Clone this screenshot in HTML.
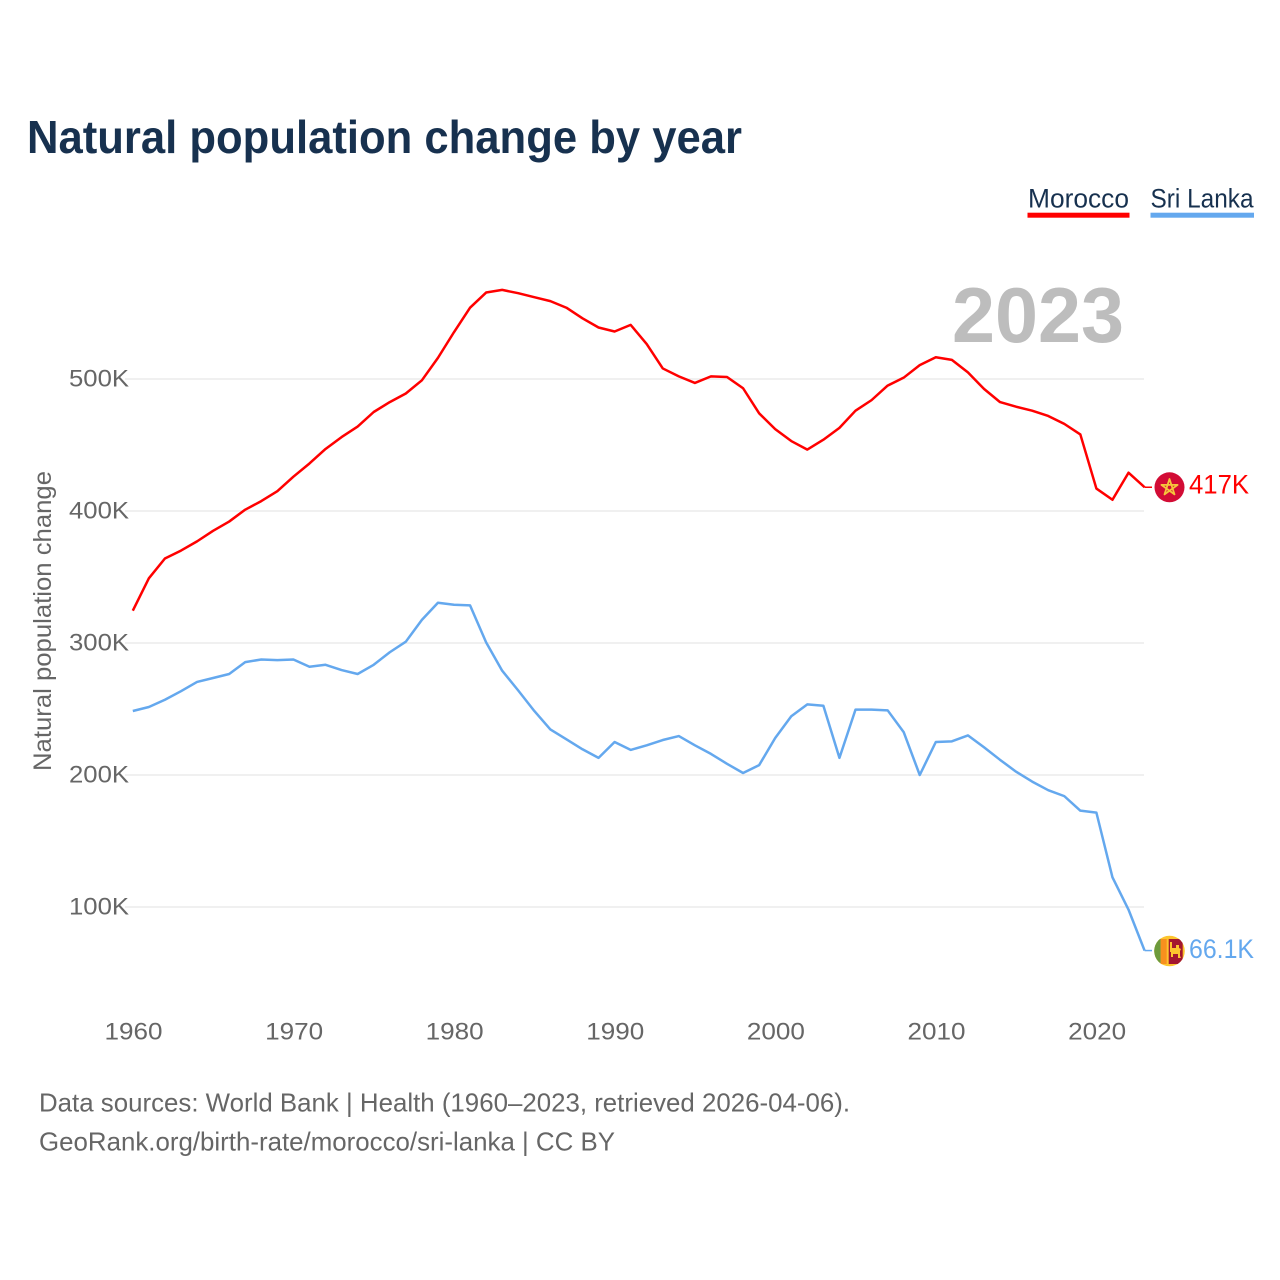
<!DOCTYPE html>
<html lang="en">
<head>
<meta charset="utf-8">
<title>Natural population change by year</title>
<style>
html,body{margin:0;padding:0;background:#fff;width:1280px;height:1280px;overflow:hidden}
svg{display:block}
text{font-family:"Liberation Sans",sans-serif}
</style>
</head>
<body>
<svg id="chart" width="1280" height="1280" viewBox="0 0 1280 1280" xmlns="http://www.w3.org/2000/svg">
  <rect width="1280" height="1280" fill="#fff"/>
  <text x="27" y="153" font-size="46" font-weight="700" fill="#17314f" textLength="715" lengthAdjust="spacingAndGlyphs">Natural population change by year</text>

  <g>
    <text x="1028" y="207.5" font-size="26.5" fill="#17314f" textLength="101" lengthAdjust="spacingAndGlyphs">Morocco</text>
    <rect x="1027.5" y="212.7" width="102" height="5" fill="#ff0000"/>
  </g>
  <g>
    <text x="1150.5" y="207.5" font-size="26.5" fill="#17314f" textLength="103" lengthAdjust="spacingAndGlyphs">Sri Lanka</text>
    <rect x="1150.5" y="212.7" width="103.5" height="5" fill="#64a8ee"/>
  </g>

  <text x="952" y="342" font-size="78" font-weight="700" fill="#bdbdbd" textLength="172" lengthAdjust="spacingAndGlyphs">2023</text>

  <g id="grid"></g>
  <g id="yticks"></g>
  <g id="xticks"></g>

  <text transform="translate(51,771) rotate(-90)" font-size="25" fill="#666" textLength="300" lengthAdjust="spacingAndGlyphs">Natural population change</text>

  <g id="series"></g>

  <defs>
    <clipPath id="flag-clip-lk"><circle cx="1169.5" cy="951" r="15.3"/></clipPath>
  </defs>
  <g id="flag-morocco">
    <circle cx="1169.5" cy="487.3" r="15" fill="#d20c35"/>
    <polygon points="1169.5,479 1174.5,494.4 1161.4,484.9 1177.6,484.9 1164.5,494.4" fill="none" stroke="#f5c63c" stroke-width="1.8" stroke-linejoin="round"/>
  </g>
  <g id="flag-sri-lanka" clip-path="url(#flag-clip-lk)">
    <rect x="1154" y="935" width="31" height="32" fill="#fdc52e"/>
    <rect x="1154" y="939" width="6.7" height="25" fill="#6c9a3c"/>
    <rect x="1160.7" y="939" width="6" height="25" fill="#f7901e"/>
    <rect x="1168.7" y="939" width="14" height="25" fill="#a3172f"/>
    <path d="M1170 942h2v6h4v-3h3v3l2 1-1 2v5l1 2h-3v-4h-5v3h-2v-5h-1z" fill="#fdc52e"/>
  </g>

  <g id="end-labels"></g>

  <text x="39" y="1111.5" font-size="26" fill="#666" textLength="811" lengthAdjust="spacingAndGlyphs">Data sources: World Bank | Health (1960–2023, retrieved 2026-04-06).</text>
  <text x="39" y="1150.5" font-size="26" fill="#666" textLength="576" lengthAdjust="spacingAndGlyphs">GeoRank.org/birth-rate/morocco/sri-lanka | CC BY</text>
</svg>

<script>
const startYear = 1960;
const moroccoValues = [324.5,349,364,370,377,385,392,401,407.5,415,426,436,447,456,464,475,482.5,489,499,516,535.5,554,565.5,567.5,565,562,559,554,546,539,536,541,526.5,508,502,497,502,501.5,493,474,462,453,446.5,454,463,476,484,495,501,510.5,516.5,514.5,505,492.5,482.5,479,476,472,466,458,417,408.5,429,418];
const sriLankaValues = [248.5,251.5,257,263.5,270.5,273.5,276.5,285.5,287.5,287,287.5,282,283.5,279.5,276.5,283.5,293,301,317.5,330.5,329,328.5,300.5,279,264,248.5,234.5,227,219.5,213,225,219,222.5,226.5,229.5,222.5,216,208.5,201.5,207.5,228,244.5,253.5,252.5,213,249.5,249.5,249,232.5,200,225,225.5,230,221,211.5,202.5,195,188.5,184,173,171.5,122.5,98,67];
const yTickValues = [100,200,300,400,500];
const yTickLabels = ["100K","200K","300K","400K","500K"];
const xTickYears = [1960,1970,1980,1990,2000,2010,2020];
const moroccoEndLabel = "417K";
const sriLankaEndLabel = "66.1K";

const NS = "http://www.w3.org/2000/svg";
function xScale(year){ return 132.8 + (year - 1960) * 16.06; }
function yScale(v){ return 379 + (500 - v) * 1.32; }
function make(tag, attrs, parent, txt){
  const el = document.createElementNS(NS, tag);
  for (const k in attrs) el.setAttribute(k, attrs[k]);
  if (txt !== undefined) el.textContent = txt;
  parent.appendChild(el);
  return el;
}
const gridG = document.getElementById("grid");
const yG = document.getElementById("yticks");
const xG = document.getElementById("xticks");
const seriesG = document.getElementById("series");
const endG = document.getElementById("end-labels");

yTickValues.forEach((v, i) => {
  const line = make("line", {x1:125, x2:1144, y1:yScale(v), y2:yScale(v), stroke:"#ececec", "stroke-width":1.5}, gridG);
  
  
  const t = make("text", {x:129, y:yScale(v)+7.5, "font-size":24.5, fill:"#666", "text-anchor":"end", textLength:60, lengthAdjust:"spacingAndGlyphs"}, yG, yTickLabels[i]);
  
  
});

xTickYears.forEach(year => {
  const t = make("text", {x:xScale(year)+0.7, y:1039.5, "font-size":24.5, fill:"#666", "text-anchor":"middle", textLength:58, lengthAdjust:"spacingAndGlyphs"}, xG, String(year));
  
  
});

function seriesPath(values){
  return values.map((v, i) => (i ? "L" : "M") + xScale(startYear + i).toFixed(2) + " " + yScale(v).toFixed(2)).join(" ");
}
const moroccoLine = make("path", {d:seriesPath(moroccoValues), fill:"none", stroke:"#ff0000", "stroke-width":2.5, "stroke-linejoin":"round"}, seriesG);


const sriLankaLine = make("path", {d:seriesPath(sriLankaValues), fill:"none", stroke:"#64a8ee", "stroke-width":2.5, "stroke-linejoin":"round"}, seriesG);



const lastX = xScale(startYear + moroccoValues.length - 1);
const moroccoLastY = yScale(moroccoValues[moroccoValues.length - 1]);
const sriLankaLastY = yScale(sriLankaValues[sriLankaValues.length - 1]);

const moroccoLeader = make("line", {x1:lastX, x2:1152, y1:moroccoLastY, y2:moroccoLastY, stroke:"#ff0000", "stroke-width":1.5}, seriesG);


const sriLankaLeader = make("line", {x1:lastX, x2:1152, y1:sriLankaLastY, y2:sriLankaLastY, stroke:"#64a8ee", "stroke-width":1.5}, seriesG);



document.getElementById("flag-morocco").setAttribute("transform", "translate(0," + (moroccoLastY - 487.24) + ")");
document.getElementById("flag-sri-lanka").setAttribute("transform", "translate(0," + (sriLankaLastY - 950.56) + ")");

const moroccoText = make("text", {x:1189, y:moroccoLastY+6.5, "font-size":26.5, fill:"#ff0000", textLength:60, lengthAdjust:"spacingAndGlyphs"}, endG, moroccoEndLabel);


const sriLankaText = make("text", {x:1189, y:sriLankaLastY+7.5, "font-size":26.5, fill:"#64a8ee", textLength:65, lengthAdjust:"spacingAndGlyphs"}, endG, sriLankaEndLabel);


</script>
</body>
</html>
